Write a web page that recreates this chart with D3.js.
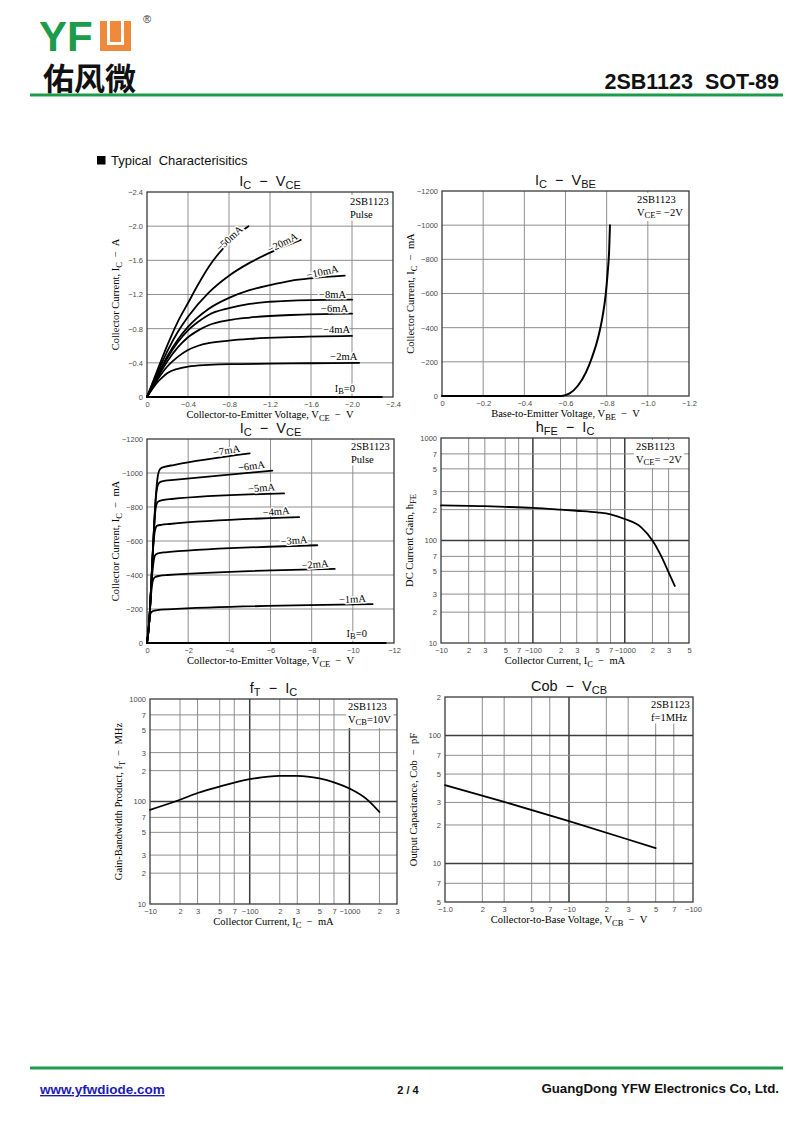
<!DOCTYPE html>
<html><head><meta charset="utf-8">
<script src="https://cdn.jsdelivr.net/npm/d3@7"></script>
<style>body{margin:0;background:#fff;}svg{display:block;}</style>
</head><body>
<svg id="page" width="800" height="1130"></svg>
<script>
// ================= DATA =================
// Chart 1 : IC - VCE (A)
const c1Names = ["−50mA","−20mA","−10mA","−8mA","−6mA","−4mA","−2mA"];
const c1Vce = [
  [0,-0.1,-0.2,-0.3,-0.4,-0.5,-0.6,-0.7,-0.8,-0.9,-0.99],
  [0,-0.1,-0.2,-0.3,-0.4,-0.6,-0.8,-1.0,-1.2,-1.5],
  [0,-0.1,-0.2,-0.3,-0.4,-0.6,-0.8,-1.0,-1.2,-1.4,-1.6,-1.93],
  [0,-0.1,-0.2,-0.3,-0.4,-0.5,-0.6,-0.8,-1.0,-1.2,-1.6,-2.0],
  [0,-0.1,-0.2,-0.3,-0.4,-0.5,-0.6,-0.8,-1.0,-1.4,-2.0],
  [0,-0.1,-0.2,-0.3,-0.4,-0.5,-0.6,-0.8,-1.0,-1.4,-2.0],
  [0,-0.05,-0.1,-0.15,-0.2,-0.3,-0.4,-0.6,-0.8,-1.2,-1.6,-2.07]
];
const c1Ic = [
  [0,-0.31,-0.61,-0.88,-1.1,-1.32,-1.52,-1.68,-1.81,-1.92,-2.0],
  [0,-0.28,-0.54,-0.76,-0.94,-1.22,-1.42,-1.57,-1.69,-1.84],
  [0,-0.25,-0.48,-0.67,-0.82,-1.03,-1.16,-1.25,-1.31,-1.36,-1.39,-1.42],
  [0,-0.24,-0.46,-0.64,-0.78,-0.88,-0.96,-1.04,-1.09,-1.115,-1.135,-1.14],
  [0,-0.22,-0.42,-0.58,-0.7,-0.78,-0.84,-0.9,-0.93,-0.96,-0.975],
  [0,-0.2,-0.36,-0.47,-0.55,-0.6,-0.63,-0.66,-0.68,-0.7,-0.715],
  [0,-0.09,-0.17,-0.23,-0.28,-0.33,-0.355,-0.375,-0.385,-0.39,-0.395,-0.4]
];
const c1ZeroVce = [0,-2.29];
const c1ZeroIc = [0,0];
const c1XTicks = [0,-0.4,-0.8,-1.2,-1.6,-2.0,-2.4];
const c1XTickLabels = ["0","−0.4","−0.8","−1.2","−1.6","−2.0","−2.4"];
const c1YTicks = [0,-0.4,-0.8,-1.2,-1.6,-2.0,-2.4];
const c1YTickLabels = ["0","−0.4","−0.8","−1.2","−1.6","−2.0","−2.4"];

// Chart 2 : IC - VBE (mA)
const c2Vbe = [0,-0.58,-0.62,-0.66,-0.70,-0.73,-0.76,-0.78,-0.795,-0.805,-0.812,-0.816];
const c2Ic  = [0,0,-15,-60,-140,-230,-350,-465,-590,-725,-850,-1000];
const c2XTicks = [0,-0.2,-0.4,-0.6,-0.8,-1.0,-1.2];
const c2XTickLabels = ["0","−0.2","−0.4","−0.6","−0.8","−1.0","−1.2"];
const c2YTicks = [0,-200,-400,-600,-800,-1000,-1200];
const c2YTickLabels = ["0","−200","−400","−600","−800","−1000","−1200"];

// Chart 3 : IC - VCE (mA)
const c3Names = ["−7mA","−6mA","−5mA","−4mA","−3mA","−2mA","−1mA"];
const c3Vce = [
  [0,-0.1,-0.2,-0.3,-0.4,-0.5,-0.58,-0.68,-0.85,-1.3,-4.99],
  [0,-0.1,-0.2,-0.3,-0.4,-0.48,-0.55,-0.65,-0.9,-1.3,-6.09],
  [0,-0.1,-0.2,-0.3,-0.4,-0.46,-0.55,-0.75,-1.2,-6.66],
  [0,-0.1,-0.2,-0.3,-0.37,-0.43,-0.5,-0.7,-1.1,-7.39],
  [0,-0.1,-0.2,-0.3,-0.35,-0.42,-0.55,-0.8,-1.1,-8.27],
  [0,-0.1,-0.2,-0.25,-0.3,-0.4,-0.6,-1.0,-9.12],
  [0,-0.05,-0.1,-0.15,-0.2,-0.3,-0.5,-1.0,-10.96]
];
const c3Ic = [
  [0,-110,-330,-580,-810,-960,-1010,-1028,-1036,-1047,-1115],
  [0,-110,-330,-580,-810,-905,-935,-948,-955,-960,-1014],
  [0,-110,-330,-580,-770,-815,-832,-840,-847,-880],
  [0,-110,-330,-560,-650,-680,-690,-695,-700,-740],
  [0,-110,-320,-460,-500,-520,-528,-533,-536,-575],
  [0,-110,-290,-345,-372,-388,-395,-400,-436],
  [0,-60,-120,-165,-180,-188,-193,-198,-229]
];
const c3ZeroVce = [0,-11.6];
const c3ZeroIc = [0,0];
const c3XTicks = [0,-2,-4,-6,-8,-10,-12];
const c3XTickLabels = ["0","−2","−4","−6","−8","−10","−12"];
const c3YTicks = [0,-200,-400,-600,-800,-1000,-1200];
const c3YTickLabels = ["0","−200","−400","−600","−800","−1000","−1200"];

// Chart 4 : hFE - IC
const c4Ic  = [10,20,30,50,100,200,300,500,700,1000,1500,2000,2500,3000,3500];
const c4Hfe = [220,218,216,213,208,200,195,188,180,162,135,100,70,49,36];
const c4XTicks = [10,20,30,50,70,100,200,300,500,700,1000,2000,3000,5000];
const c4XTickLabels = ["−10","2","3","5","7","−100","2","3","5","7","−1000","2","3","5"];
const c4YTicks = [10,20,30,50,70,100,200,300,500,700,1000];
const c4YTickLabels = ["10","2","3","5","7","100","2","3","5","7","1000"];

// Chart 5 : fT - IC
const c5Ic = [10,20,30,50,100,200,300,500,700,1000,1500,2000];
const c5Ft = [83,104,121,140,165,178,178,168,154,134,105,79];
const c5XTicks = [10,20,30,50,70,100,200,300,500,700,1000,2000,3000];
const c5XTickLabels = ["−10","2","3","5","7","−100","2","3","5","7","−1000","2","3"];
const c5YTicks = [10,20,30,50,70,100,200,300,500,700,1000];
const c5YTickLabels = ["10","2","3","5","7","100","2","3","5","7","1000"];

// Chart 6 : Cob - VCB
const c6Vcb = [1,3,10,30,50];
const c6Cob = [41,30.3,21.4,15.4,13.2];
const c6XTicks = [1,2,3,5,7,10,20,30,50,70,100];
const c6XTickLabels = ["−1.0","2","3","5","7","−10","2","3","5","7","−100"];
const c6YTicks = [5,7,10,20,30,50,70,100,200];
const c6YTickLabels = ["5","7","10","2","3","5","7","100","2"];

// label placements (data coords + rotation), kept apart from the data
const c1LabelPos = [[-0.80,-1.86,-43],[-1.32,-1.81,-27],[-1.71,-1.47,-12],[-1.81,-1.21,0],[-1.83,-1.04,0],[-1.85,-0.80,0],[-1.92,-0.48,0]];
const c1ZeroLabelPos = [-1.93,-0.10];
const c3LabelPos = [[-3.86,-1135,-9],[-5.07,-1044,-7],[-5.56,-915,-5],[-6.27,-776,-5],[-7.14,-606,-4],[-8.16,-465,-5],[-9.98,-261,-3]];
const c3ZeroLabelPos = [-10.19,-57];

// ================= DRAWING =================
const page = d3.select("#page");
const SERIF = "'Liberation Serif','Times New Roman',serif";
const SANS = "'Liberation Sans',Arial,sans-serif";
const GREEN = "#1b9b4b";

function rich(g, x, y, parts, o) {
  const t = g.append("text").attr("x", x).attr("y", y)
    .attr("font-family", o.family).attr("font-size", o.size)
    .attr("text-anchor", o.anchor || "start").attr("fill", o.fill || "#000")
    .style("white-space", "pre");
  if (o.weight) t.attr("font-weight", o.weight);
  if (o.rotate) t.attr("transform", `rotate(${o.rotate},${x},${y})`);
  if (o.baseline) t.attr("dominant-baseline", o.baseline);
  let shifted = 0;
  parts.forEach(p => {
    const isSub = Array.isArray(p);
    const ts = t.append("tspan").text(isSub ? p[0] : p);
    const want = isSub ? o.subDy : 0;
    if (want !== shifted) { ts.attr("dy", want - shifted); shifted = want; }
    if (isSub) ts.attr("font-size", o.subSize);
  });
  return t;
}
function halo(t) {
  t.attr("stroke", "#fff").attr("stroke-width", 3).attr("paint-order", "stroke").attr("stroke-linejoin", "round");
  return t;
}
function note(g, x, y1, line1, line2parts) {
  const gg = g.append("g");
  const t1 = gg.append("text").attr("x", x).attr("y", y1).attr("font-family", SERIF).attr("font-size", 10.5).text(line1);
  const t2 = rich(gg, x, y1 + 12.5, line2parts, {family: SERIF, size: 10.5, subSize: 8.5, subDy: 2.5});
  const b1 = t1.node().getBBox(), b2 = t2.node().getBBox();
  const x0 = Math.min(b1.x, b2.x) - 2, y0 = b1.y - 1;
  const x1 = Math.max(b1.x + b1.width, b2.x + b2.width) + 2, y1b = b2.y + b2.height + 1;
  gg.insert("rect", "text").attr("x", x0).attr("y", y0).attr("width", x1 - x0).attr("height", y1b - y0).attr("fill", "#fff");
}

function frame(c) {
  const g = page.append("g");
  const {L, R, T, B, x, y} = c;
  const minor = "#8e8e8e", major = "#3c3c3c";
  c.xTicks.forEach(v => {
    const px = x(v); if (Math.abs(px - L) < 1 || Math.abs(px - R) < 1) return;
    const isMaj = c.xMajor && c.xMajor.includes(v);
    g.append("line").attr("x1", px).attr("x2", px).attr("y1", T).attr("y2", B)
      .attr("stroke", isMaj ? major : minor).attr("stroke-width", isMaj ? 1.5 : 1);
  });
  c.yTicks.forEach(v => {
    const py = y(v); if (Math.abs(py - T) < 1 || Math.abs(py - B) < 1) return;
    const isMaj = c.yMajor && c.yMajor.includes(v);
    g.append("line").attr("x1", L).attr("x2", R).attr("y1", py).attr("y2", py)
      .attr("stroke", isMaj ? major : minor).attr("stroke-width", isMaj ? 1.5 : 1);
  });
  g.append("rect").attr("x", L).attr("y", T).attr("width", R - L).attr("height", B - T)
    .attr("fill", "none").attr("stroke", "#3a3a3a").attr("stroke-width", 1.3);
  const ax = g.append("g").attr("transform", `translate(0,${B})`)
    .call(d3.axisBottom(x).tickValues(c.xTicks).tickFormat((d, i) => c.xLabels[i]).tickSize(0).tickPadding(5));
  const ay = g.append("g").attr("transform", `translate(${L},0)`)
    .call(d3.axisLeft(y).tickValues(c.yTicks).tickFormat((d, i) => c.yLabels[i]).tickSize(0).tickPadding(4));
  [ax, ay].forEach(a => {
    a.select(".domain").remove();
    a.attr("font-family", SANS).attr("font-size", 7.5);
    a.selectAll("text").attr("fill", "#4a4a4a");
  });
  rich(g, (L + R) / 2, T - 6, c.title, {family: SANS, size: 14.5, subSize: 11, subDy: 3, anchor: "middle", fill: "#111"});
  rich(g, (L + R) / 2, B + 21, c.xTitle, {family: SERIF, size: 10.5, subSize: 8.5, subDy: 2.5, anchor: "middle"});
  rich(g, L - 28, (T + B) / 2, c.yTitle, {family: SERIF, size: 10.5, subSize: 8.5, subDy: 2.5, anchor: "middle", rotate: -90});
  return g;
}
function curve(g, x, y, xs, ys, width, interp) {
  const pts = xs.map((v, i) => [v, ys[i]]);
  g.append("path").datum(pts)
    .attr("d", d3.line().x(d => x(d[0])).y(d => y(d[1])).curve(interp || d3.curveMonotoneX))
    .attr("fill", "none").attr("stroke", "#000").attr("stroke-width", width || 1.8)
    .attr("stroke-linejoin", "round").attr("stroke-linecap", "round");
}

// ---------- Header ----------
page.append("text").attr("x", 39).attr("y", 51).attr("font-family", SANS).attr("font-weight", 700)
  .attr("font-size", 42).attr("fill", GREEN).text("YF");
page.append("rect").attr("x", 100).attr("y", 21).attr("width", 31).attr("height", 30).attr("fill", "#ef8a3c");
page.append("path").attr("d", "M108.5,21 V43.5 H122.5 V21").attr("fill", "none").attr("stroke", "#fff").attr("stroke-width", 3);
page.append("text").attr("x", 143).attr("y", 23).attr("font-family", SANS).attr("font-size", 11).attr("fill", "#333").text("®");
page.append("text").attr("x", 43).attr("y", 90).attr("font-family", "'Liberation Sans','Noto Sans CJK SC',sans-serif").attr("font-weight", 700)
  .attr("font-size", 31).attr("fill", "#111").text("佑风微");
page.append("text").attr("x", 779).attr("y", 89).attr("text-anchor", "end").attr("font-family", SANS).attr("font-weight", 700)
  .attr("font-size", 21.5).attr("fill", "#111").style("white-space", "pre").text("2SB1123  SOT-89");
page.append("line").attr("x1", 30).attr("x2", 783).attr("y1", 95).attr("y2", 95).attr("stroke", GREEN).attr("stroke-width", 3);

page.append("rect").attr("x", 97).attr("y", 156).attr("width", 8.5).attr("height", 8.5).attr("fill", "#000");
page.append("text").attr("x", 111).attr("y", 165).attr("font-family", SANS).attr("font-size", 13).attr("fill", "#111")
  .style("white-space", "pre").text("Typical  Characterisitics");

// ---------- Chart 1 ----------
{
  const c = {L: 147, R: 393, T: 192, B: 397};
  c.x = d3.scaleLinear().domain([0, -2.4]).range([c.L, c.R]);
  c.y = d3.scaleLinear().domain([0, -2.4]).range([c.B, c.T]);
  Object.assign(c, {xTicks: c1XTicks, xLabels: c1XTickLabels, yTicks: c1YTicks, yLabels: c1YTickLabels,
    title: ["I", ["C"], "  −  V", ["CE"]],
    xTitle: ["Collector-to-Emitter Voltage, V", ["CE"], "  −  V"],
    yTitle: ["Collector Current, I", ["C"], "  −  A"]});
  const g = frame(c);
  note(g, 350, 205, "2SB1123", ["Pulse"]);
  c1Vce.forEach((xs, i) => curve(g, c.x, c.y, xs, c1Ic[i]));
  curve(g, c.x, c.y, c1ZeroVce, c1ZeroIc, 2);
  c1Names.forEach((n, i) => {
    const [vx, vy, r] = c1LabelPos[i];
    halo(rich(g, c.x(vx), c.y(vy), [n], {family: SERIF, size: 10.5, anchor: "middle", baseline: "central", rotate: r}));
  });
  halo(rich(g, c.x(c1ZeroLabelPos[0]), c.y(c1ZeroLabelPos[1]), ["I", ["B"], "=0"], {family: SERIF, size: 10.5, subSize: 8.5, subDy: 2.5, anchor: "middle", baseline: "central"}));
}
// ---------- Chart 2 ----------
{
  const c = {L: 442, R: 689, T: 191, B: 396};
  c.x = d3.scaleLinear().domain([0, -1.2]).range([c.L, c.R]);
  c.y = d3.scaleLinear().domain([0, -1200]).range([c.B, c.T]);
  Object.assign(c, {xTicks: c2XTicks, xLabels: c2XTickLabels, yTicks: c2YTicks, yLabels: c2YTickLabels,
    title: ["I", ["C"], "  −  V", ["BE"]],
    xTitle: ["Base-to-Emitter Voltage, V", ["BE"], "  −  V"],
    yTitle: ["Collector Current, I", ["C"], "  −  mA"]});
  const g = frame(c);
  note(g, 637, 203, "2SB1123", ["V", ["CE"], "= −2V"]);
  curve(g, c.x, c.y, c2Vbe, c2Ic, 2);
}
// ---------- Chart 3 ----------
{
  const c = {L: 147, R: 394, T: 439, B: 643};
  c.x = d3.scaleLinear().domain([0, -12]).range([c.L, c.R]);
  c.y = d3.scaleLinear().domain([0, -1200]).range([c.B, c.T]);
  Object.assign(c, {xTicks: c3XTicks, xLabels: c3XTickLabels, yTicks: c3YTicks, yLabels: c3YTickLabels,
    title: ["I", ["C"], "  −  V", ["CE"]],
    xTitle: ["Collector-to-Emitter Voltage, V", ["CE"], "  −  V"],
    yTitle: ["Collector Current, I", ["C"], "  −  mA"]});
  const g = frame(c);
  note(g, 351, 450, "2SB1123", ["Pulse"]);
  c3Vce.forEach((xs, i) => curve(g, c.x, c.y, xs, c3Ic[i]));
  curve(g, c.x, c.y, c3ZeroVce, c3ZeroIc, 2);
  c3Names.forEach((n, i) => {
    const [vx, vy, r] = c3LabelPos[i];
    halo(rich(g, c.x(vx), c.y(vy), [n], {family: SERIF, size: 10.5, anchor: "middle", baseline: "central", rotate: r}));
  });
  halo(rich(g, c.x(c3ZeroLabelPos[0]), c.y(c3ZeroLabelPos[1]), ["I", ["B"], "=0"], {family: SERIF, size: 10.5, subSize: 8.5, subDy: 2.5, anchor: "middle", baseline: "central"}));
}
// ---------- Chart 4 ----------
{
  const c = {L: 441, R: 689, T: 438, B: 643};
  c.x = d3.scaleLog().domain([10, 5000]).range([c.L, c.R]);
  c.y = d3.scaleLog().domain([10, 1000]).range([c.B, c.T]);
  Object.assign(c, {xTicks: c4XTicks, xLabels: c4XTickLabels, yTicks: c4YTicks, yLabels: c4YTickLabels,
    xMajor: [100, 1000], yMajor: [100],
    title: ["h", ["FE"], "  −  I", ["C"]],
    xTitle: ["Collector Current, I", ["C"], "  −  mA"],
    yTitle: ["DC Current Gain, h", ["FE"]]});
  const g = frame(c);
  note(g, 636, 450, "2SB1123", ["V", ["CE"], "= −2V"]);
  curve(g, c.x, c.y, c4Ic, c4Hfe);
}
// ---------- Chart 5 ----------
{
  const c = {L: 150, R: 397, T: 699, B: 904};
  c.x = d3.scaleLog().domain([10, 3000]).range([c.L, c.R]);
  c.y = d3.scaleLog().domain([10, 1000]).range([c.B, c.T]);
  Object.assign(c, {xTicks: c5XTicks, xLabels: c5XTickLabels, yTicks: c5YTicks, yLabels: c5YTickLabels,
    xMajor: [100, 1000], yMajor: [100],
    title: ["f", ["T"], "  −  I", ["C"]],
    xTitle: ["Collector Current, I", ["C"], "  −  mA"],
    yTitle: ["Gain-Bandwidth Product, f", ["T"], "  −  MHz"]});
  const g = frame(c);
  note(g, 348, 710, "2SB1123", ["V", ["CB"], "=10V"]);
  curve(g, c.x, c.y, c5Ic, c5Ft);
}
// ---------- Chart 6 ----------
{
  const c = {L: 445, R: 693, T: 697, B: 902};
  c.x = d3.scaleLog().domain([1, 100]).range([c.L, c.R]);
  c.y = d3.scaleLog().domain([5, 200]).range([c.B, c.T]);
  Object.assign(c, {xTicks: c6XTicks, xLabels: c6XTickLabels, yTicks: c6YTicks, yLabels: c6YTickLabels,
    xMajor: [10], yMajor: [10, 100],
    title: ["Cob  −  V", ["CB"]],
    xTitle: ["Collector-to-Base Voltage, V", ["CB"], "  −  V"],
    yTitle: ["Output Capacitance, Cob  −  pF"]});
  const g = frame(c);
  note(g, 651, 708, "2SB1123", ["f=1MHz"]);
  curve(g, c.x, c.y, c6Vcb, c6Cob, 1.8, d3.curveLinear);
}

// ---------- Footer ----------
page.append("line").attr("x1", 30).attr("x2", 783).attr("y1", 1068).attr("y2", 1068).attr("stroke", GREEN).attr("stroke-width", 3);
page.append("text").attr("x", 40).attr("y", 1094).attr("font-family", SANS).attr("font-weight", 700).attr("font-size", 13.5)
  .attr("fill", "#1c1cb0").attr("text-decoration", "underline").text("www.yfwdiode.com");
page.append("text").attr("x", 408).attr("y", 1094).attr("text-anchor", "middle").attr("font-family", SANS).attr("font-weight", 700)
  .attr("font-size", 11).attr("fill", "#111").text("2 / 4");
page.append("text").attr("x", 779).attr("y", 1093).attr("text-anchor", "end").attr("font-family", SANS).attr("font-weight", 700)
  .attr("font-size", 13.3).attr("fill", "#111").text("GuangDong YFW Electronics Co, Ltd.");
</script>
</body></html>
